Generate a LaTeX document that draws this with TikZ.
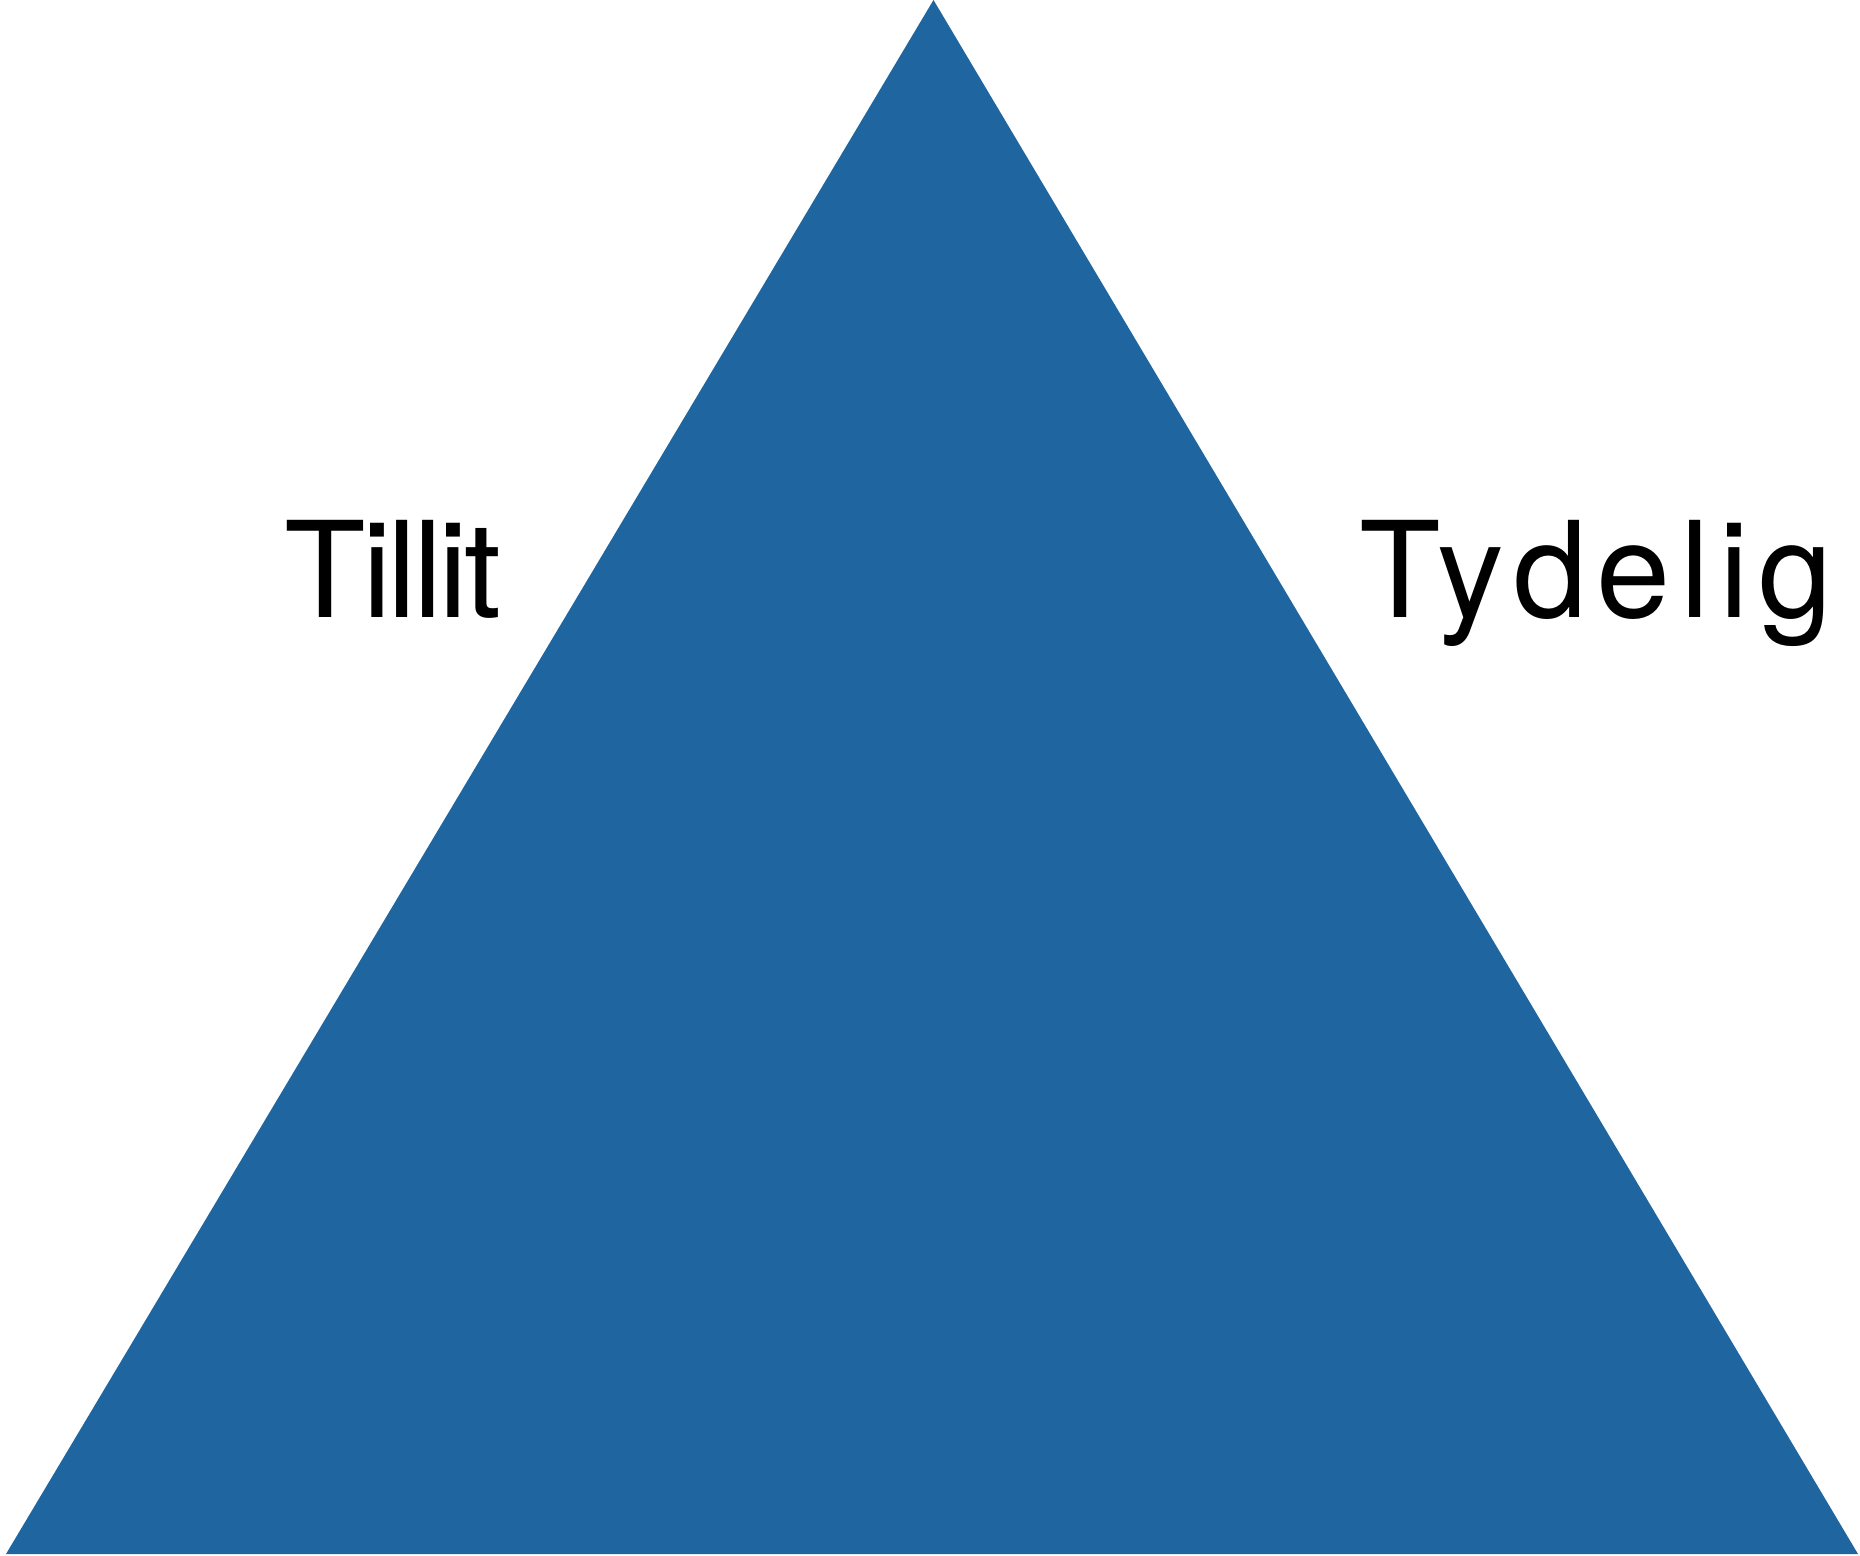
\documentclass[tikz,border=0pt]{standalone}
\usepackage{fontspec}
\setmainfont{TeX Gyre Heros}
\definecolor{triblue}{RGB}{31,102,160}
\begin{document}
\begin{tikzpicture}[x=0.75pt,y=-0.75pt,
  lbl/.style={font=\fontsize{100}{110}\selectfont, text=black, inner sep=0pt, anchor=base}]
\useasboundingbox (0,0) rectangle (1860,1556);
\fill[triblue] (933.5,0) -- (1858,1554) -- (6,1554) -- cycle;
\node[lbl] (tillit) at (393,617) {\addfontfeature{LetterSpace=-3}Tillit};
\node[lbl] (tydelig) at (1596,617) {\addfontfeature{LetterSpace=7}Tydelig};
\end{tikzpicture}
\end{document}
